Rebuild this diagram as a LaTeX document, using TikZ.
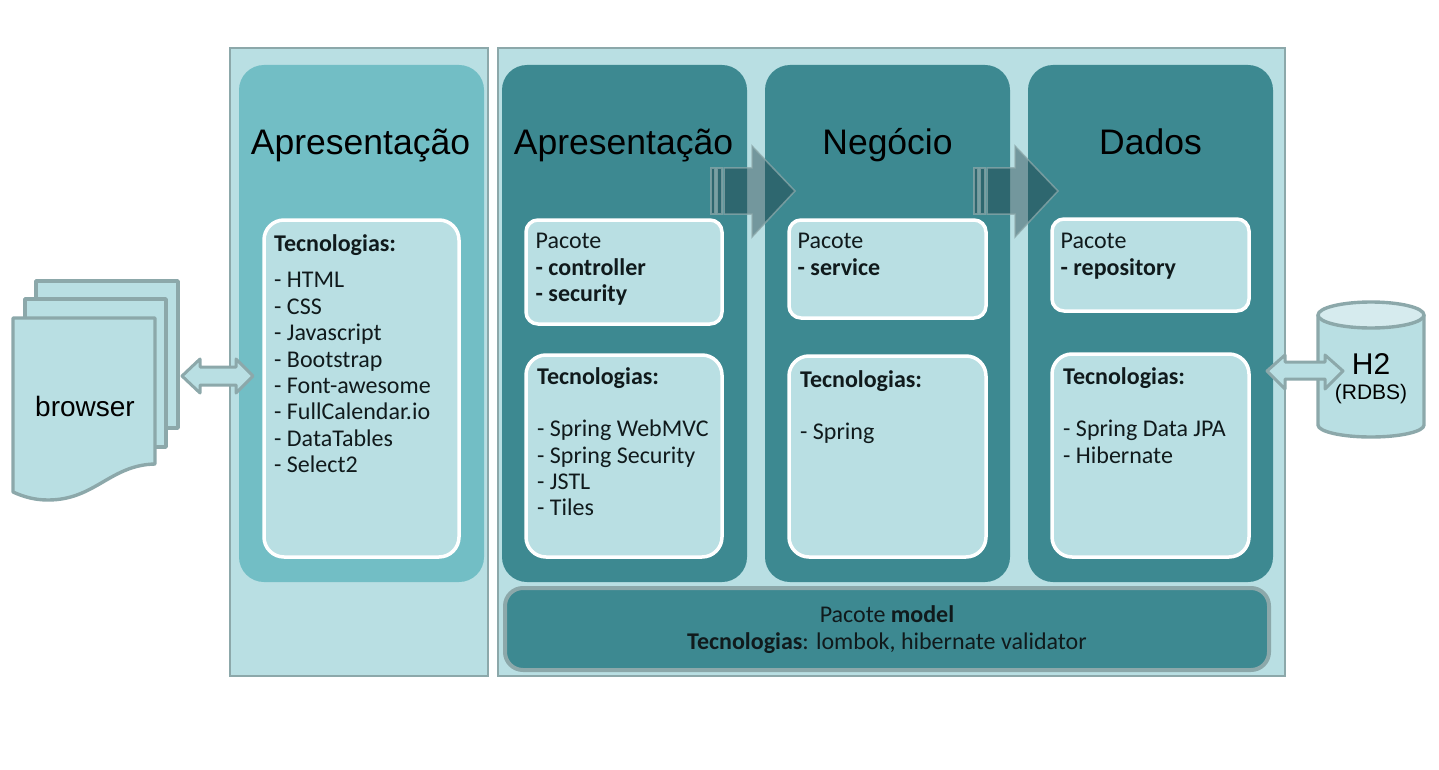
\documentclass[tikz,border=0pt]{standalone}
\usepackage{fontspec}
\setmainfont{Liberation Sans}
\newfontfamily\carl{Carlito}
\usetikzlibrary{calc}
\definecolor{pale}{HTML}{B9DFE3}
\definecolor{mid}{HTML}{72BEC5}
\definecolor{deep}{HTML}{3D8991}
\definecolor{edge}{HTML}{8CA8AA}
\definecolor{ink}{HTML}{101A1C}
\definecolor{topcap}{HTML}{D6EBEE}
\definecolor{arrowfill}{HTML}{1B3D44}
\tikzset{
  x=1pt,y=-1pt,
  panel/.style={draw=edge,fill=pale,line width=1.6pt},
  column/.style={fill=mid,rounded corners=25pt},
  darkcolumn/.style={fill=deep,rounded corners=25pt},
  card/.style={draw=white,fill=pale,line width=3.5pt,rounded corners=20pt},
  smallcard/.style={card,rounded corners=12pt},
  shapeline/.style={draw=edge,fill=pale,line width=3.4pt,line join=round},
  flowbody/.style={fill=arrowfill,fill opacity=.44,draw=edge,draw opacity=.75,line width=1.5pt,line join=miter},
  title/.style={font=\fontsize{35.5}{40}\selectfont,text=black,inner sep=0pt,anchor=base},
  body/.style={font=\carl\fontsize{24}{26.4}\selectfont,text=ink,align=left,anchor=north west,inner sep=0pt},
}
\begin{document}
\begin{tikzpicture}
\useasboundingbox (0,0) rectangle (1439,770);
% panels
\draw[panel] (230,48) rectangle (488,676);
\draw[panel] (498,48) rectangle (1285,676);
\fill[column] (239,65) rectangle (484,582);
\fill[darkcolumn] (502,65) rectangle (747,582);
\fill[darkcolumn] (765,65) rectangle (1010,582);
\fill[darkcolumn] (1028,65) rectangle (1273,582);
\draw[fill=deep,draw=edge,line width=4pt,rounded corners=18pt] (505,588) rectangle (1269,670);
% cards
\draw[card] (264,220) rectangle (459,557);
\draw[smallcard] (526,220) rectangle (722,324);
\draw[card] (526,355) rectangle (722,557);
\draw[smallcard] (789,220) rectangle (986,318);
\draw[card] (789,356) rectangle (986,557);
\draw[smallcard] (1052,219) rectangle (1249,311);
\draw[card] (1052,354) rectangle (1249,557);
% titles
\node[title] (t1) at (360.5,154.8) {Apresentação};
\node[title] (t2) at (623.5,154.8) {Apresentação};
\node[title] (t3) at (887.5,154.8) {Negócio};
\node[title] (t4) at (1150.5,154.8) {Dados};
% texts
\node[body] (a) at (274,234) {\textbf{Tecnologias:}\\[10.5pt]- HTML\\- CSS\\- Javascript\\- Bootstrap\\- Font-awesome\\- FullCalendar.io\\- DataTables\\- Select2};
\node[body] (b) at (535.5,233) {Pacote\\\textbf{- controller}\\\textbf{- security}};
\node[body] (c) at (537,367) {\textbf{Tecnologias:}\\[26.2pt]- Spring WebMVC\\- Spring Security\\- JSTL\\- Tiles};
\node[body] (d) at (797.5,233) {Pacote\\\textbf{- service}};
\node[body] (e) at (800,370) {\textbf{Tecnologias:}\\[26.2pt]- Spring};
\node[body] (f) at (1060.5,233) {Pacote\\\textbf{- repository}};
\node[body] (g) at (1063,367) {\textbf{Tecnologias:}\\[26.2pt]- Spring Data JPA\\- Hibernate};
\node[font=\carl\fontsize{24}{27.5}\selectfont,text=ink,align=center,inner sep=0pt] (m) at (887,629.5) {Pacote \textbf{model}\\\textbf{Tecnologias}: lombok, hibernate validator};
% flow arrows
\foreach \dx in {0,263}{
  \draw[flowbody] ($(711,168)+(\dx,0)$) rectangle ($(715,214)+(\dx,0)$);
  \draw[flowbody] ($(717,168)+(\dx,0)$) rectangle ($(722,214)+(\dx,0)$);
  \draw[flowbody] ($(724,168)+(\dx,0)$) -- ($(752,168)+(\dx,0)$) -- ($(752,146)+(\dx,0)$) -- ($(795,191)+(\dx,0)$) -- ($(752,237)+(\dx,0)$) -- ($(752,214)+(\dx,0)$) -- ($(724,214)+(\dx,0)$) -- cycle;
}
% browser
\draw[shapeline] (36,281) rectangle (178,428);
\draw[shapeline] (25,299) rectangle (166,447);
\draw[shapeline] (13,318) -- (155,318) -- (155,464) .. controls (110,465) and (95,500) .. (48,500) .. controls (35,500) and (24,497) .. (13,492) -- cycle;
\node[font=\fontsize{28}{32}\selectfont,text=black,inner sep=0pt] (br) at (85,406) {browser};
% cylinder
\draw[shapeline] (1318,315) -- (1318,425) arc[start angle=180,end angle=360,x radius=53,y radius=-12] -- (1424,315);
\draw[shapeline,fill=topcap] (1371,315) ellipse[x radius=53,y radius=13];
\node[font=\fontsize{30}{34}\selectfont,text=black,inner sep=0pt] (h2) at (1371,364) {H2};
\node[font=\fontsize{21}{24}\selectfont,text=black,inner sep=0pt] (rd) at (1371,394) {(RDBS)};
% double arrows
\draw[draw=edge,fill=pale,line width=3pt,line join=round] (182,376) -- (200,359) -- (200,367) -- (236,367) -- (236,359) -- (253,376) -- (236,393) -- (236,385) -- (200,385) -- (200,393) -- cycle;
\draw[draw=edge,fill=pale,line width=3pt,line join=round] (1267,371) -- (1285,355) -- (1285,362) -- (1325,362) -- (1325,355) -- (1343,371) -- (1325,389) -- (1325,379) -- (1285,379) -- (1285,389) -- cycle;
\end{tikzpicture}
\end{document}
